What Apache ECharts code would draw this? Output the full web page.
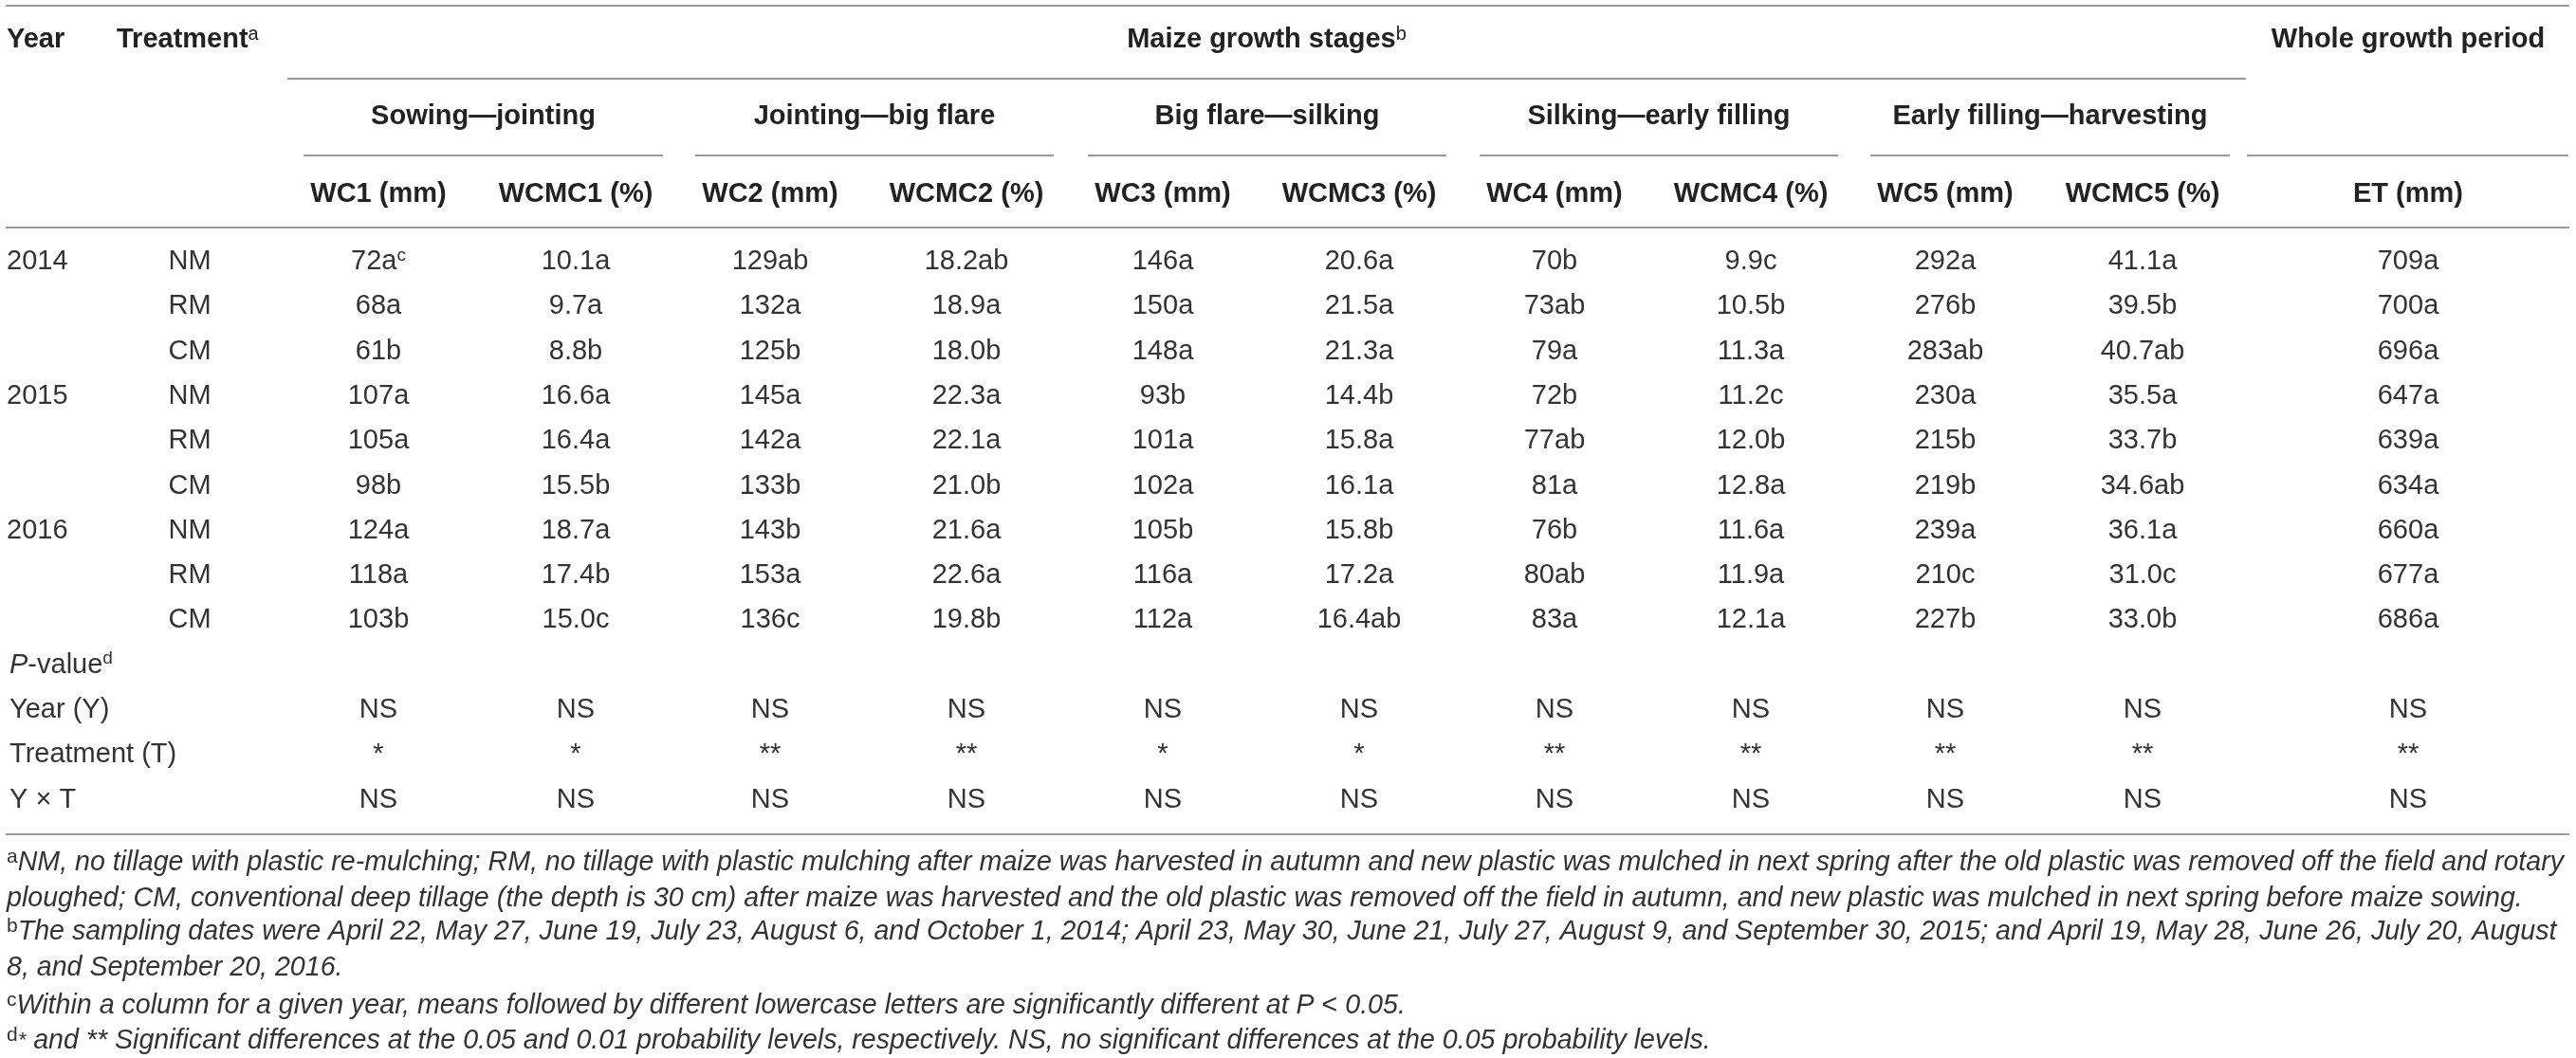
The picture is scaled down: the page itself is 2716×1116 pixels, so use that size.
<!DOCTYPE html>
<html><head><meta charset="utf-8">
<script src="https://cdn.jsdelivr.net/npm/echarts@6/dist/echarts.min.js"></script>
<style>html,body{margin:0;padding:0;background:#fff}#c{width:2716px;height:1116px}</style>
</head><body><div id="c"></div>
<script>
// ---------------- DATA ----------------
const years = ['2014', '2015', '2016'];
const treatments = ['NM', 'RM', 'CM'];
const stageLabels = ['Sowing\u2014jointing', 'Jointing\u2014big flare', 'Big flare\u2014silking', 'Silking\u2014early filling', 'Early filling\u2014harvesting'];
const columnLabels = ['WC1 (mm)', 'WCMC1 (%)', 'WC2 (mm)', 'WCMC2 (%)', 'WC3 (mm)', 'WCMC3 (%)', 'WC4 (mm)', 'WCMC4 (%)', 'WC5 (mm)', 'WCMC5 (%)', 'ET (mm)'];
const columnDecimals = [0, 1, 0, 1, 0, 1, 0, 1, 0, 1, 0];

const WC1 = [72, 68, 61, 107, 105, 98, 124, 118, 103];
const WC1_sig = ['a', 'a', 'b', 'a', 'a', 'b', 'a', 'a', 'b'];
const WCMC1 = [10.1, 9.7, 8.8, 16.6, 16.4, 15.5, 18.7, 17.4, 15.0];
const WCMC1_sig = ['a', 'a', 'b', 'a', 'a', 'b', 'a', 'b', 'c'];
const WC2 = [129, 132, 125, 145, 142, 133, 143, 153, 136];
const WC2_sig = ['ab', 'a', 'b', 'a', 'a', 'b', 'b', 'a', 'c'];
const WCMC2 = [18.2, 18.9, 18.0, 22.3, 22.1, 21.0, 21.6, 22.6, 19.8];
const WCMC2_sig = ['ab', 'a', 'b', 'a', 'a', 'b', 'a', 'a', 'b'];
const WC3 = [146, 150, 148, 93, 101, 102, 105, 116, 112];
const WC3_sig = ['a', 'a', 'a', 'b', 'a', 'a', 'b', 'a', 'a'];
const WCMC3 = [20.6, 21.5, 21.3, 14.4, 15.8, 16.1, 15.8, 17.2, 16.4];
const WCMC3_sig = ['a', 'a', 'a', 'b', 'a', 'a', 'b', 'a', 'ab'];
const WC4 = [70, 73, 79, 72, 77, 81, 76, 80, 83];
const WC4_sig = ['b', 'ab', 'a', 'b', 'ab', 'a', 'b', 'ab', 'a'];
const WCMC4 = [9.9, 10.5, 11.3, 11.2, 12.0, 12.8, 11.6, 11.9, 12.1];
const WCMC4_sig = ['c', 'b', 'a', 'c', 'b', 'a', 'a', 'a', 'a'];
const WC5 = [292, 276, 283, 230, 215, 219, 239, 210, 227];
const WC5_sig = ['a', 'b', 'ab', 'a', 'b', 'b', 'a', 'c', 'b'];
const WCMC5 = [41.1, 39.5, 40.7, 35.5, 33.7, 34.6, 36.1, 31.0, 33.0];
const WCMC5_sig = ['a', 'b', 'ab', 'a', 'b', 'ab', 'a', 'c', 'b'];
const ET = [709, 700, 696, 647, 639, 634, 660, 677, 686];
const ET_sig = ['a', 'a', 'a', 'a', 'a', 'a', 'a', 'a', 'a'];

const pRowLabels = ['Year (Y)', 'Treatment (T)', 'Y \u00d7 T'];
const pYear = ['NS', 'NS', 'NS', 'NS', 'NS', 'NS', 'NS', 'NS', 'NS', 'NS', 'NS'];
const pTreatment = ['*', '*', '**', '**', '*', '*', '**', '**', '**', '**', '**'];
const pYT = ['NS', 'NS', 'NS', 'NS', 'NS', 'NS', 'NS', 'NS', 'NS', 'NS', 'NS'];

const footnotes = [
  '{fsup|a}{fit|NM, no tillage with plastic re-mulching; RM, no tillage with plastic mulching after maize was harvested in autumn and new plastic was mulched in next spring after the old plastic was removed off the field and rotary}',
  '{fit|ploughed; CM, conventional deep tillage (the depth is 30 cm) after maize was harvested and the old plastic was removed off the field in autumn, and new plastic was mulched in next spring before maize sowing.}',
  '{fsup|b}{fit|The sampling dates were April 22, May 27, June 19, July 23, August 6, and October 1, 2014; April 23, May 30, June 21, July 27, August 9, and September 30, 2015; and April 19, May 28, June 26, July 20, August}',
  '{fit|8, and September 20, 2016.}',
  '{fsup|c}{fit|Within a column for a given year, means followed by different lowercase letters are significantly different at P }{fup|<}{fit| 0.05.}',
  '{fsup|d}{fast|*}{fit| and ** Significant differences at the 0.05 and 0.01 probability levels, respectively. NS, no significant differences at the 0.05 probability levels.}'
];

// ---------------- LAYOUT / STYLE ----------------
const W = 2716, H = 1116;
const FAM = "'Liberation Sans', Arial, 'Noto Sans', sans-serif";
const FS = 29, FFS = 28.6;
const COL_DATA = '#333333', COL_HEAD = '#222222', COL_LINE = '#9a9a9a';
const colX = [399, 607, 812, 1019, 1226, 1433, 1639, 1846, 2051, 2259, 2539];
const yearX = 7, treatX = 200, treatHeadX = 123;
const headY = [42, 123, 205];
const rowY0 = 276, rowStep = 47.3;
const footY = [910, 948, 983, 1021, 1061, 1098];
const lineTopY = 6, maizeLineY = 83, stageLineY = 164, headBottomY = 240, bottomY = 880;
const tableLeft = 6, tableRight = 2709;

const RICH = {
  sup: {font: '19px ' + FAM, fill: COL_DATA, verticalAlign: 'top', lineHeight: 19},
  hsup: {font: '20px ' + FAM, fill: COL_HEAD, verticalAlign: 'top', lineHeight: 20},
  it: {font: 'italic ' + FS + 'px ' + FAM, fill: COL_DATA, lineHeight: 32},
  fit: {font: 'italic ' + FFS + 'px ' + FAM, fill: COL_DATA, lineHeight: 32},
  fup: {font: FFS + 'px ' + FAM, fill: COL_DATA, lineHeight: 32},
  fsup: {font: '21px ' + FAM, fill: COL_DATA, verticalAlign: 'top', lineHeight: 21},
  fast: {font: 'italic 22px ' + FAM, fill: COL_DATA, lineHeight: 32}
};

// ---------------- BUILD CELLS ----------------
const valueCols = [[WC1, WC1_sig], [WCMC1, WCMC1_sig], [WC2, WC2_sig], [WCMC2, WCMC2_sig], [WC3, WC3_sig], [WCMC3, WCMC3_sig], [WC4, WC4_sig], [WCMC4, WCMC4_sig], [WC5, WC5_sig], [WCMC5, WCMC5_sig], [ET, ET_sig]];
const cells = [];
function addCell(x, y, text, align, bold) {
  cells.push({x: x, y: y, text: text, align: align || 'center', bold: !!bold});
}
// header
addCell(yearX, headY[0], 'Year', 'left', true);
addCell(treatHeadX, headY[0], 'Treatment{hsup|a}', 'left', true);
const stageSpans = stageLabels.map((s, k) => [colX[2 * k] - 79, colX[2 * k + 1] + 92]);
addCell((stageSpans[0][0] + stageSpans[4][1]) / 2, headY[0], 'Maize growth stages{hsup|b}', 'center', true);
addCell(colX[10], headY[0], 'Whole growth period', 'center', true);
stageLabels.forEach((s, k) => addCell((stageSpans[k][0] + stageSpans[k][1]) / 2, headY[1], s, 'center', true));
columnLabels.forEach((s, k) => addCell(colX[k], headY[2], s, 'center', true));
// body
for (let r = 0; r < years.length * treatments.length; r++) {
  const y = rowY0 + r * rowStep;
  if (r % 3 === 0) addCell(yearX, y, years[r / 3], 'left');
  addCell(treatX, y, treatments[r % 3], 'center');
  valueCols.forEach((vc, k) => {
    let t = vc[0][r].toFixed(columnDecimals[k]) + vc[1][r];
    if (r === 0 && k === 0) t += '{sup|c}';
    addCell(colX[k], y, t, 'center');
  });
}
// p-values
const pStart = years.length * treatments.length;
addCell(yearX + 3, rowY0 + pStart * rowStep, '{it|P}-value{sup|d}', 'left');
[pYear, pTreatment, pYT].forEach((arr, i) => {
  const y = rowY0 + (pStart + 1 + i) * rowStep;
  addCell(yearX + 3, y, pRowLabels[i], 'left');
  arr.forEach((t, k) => addCell(colX[k], y, t, 'center'));
});
// footnotes
footnotes.forEach((t, i) => addCell(yearX, footY[i], t, 'left'));

// lines
const rules = [[tableLeft, tableRight, lineTopY], [stageSpans[0][0] - 17, stageSpans[4][1] + 17, maizeLineY]];
stageSpans.forEach(s => rules.push([s[0], s[1], stageLineY]));
rules.push([stageSpans[4][1] + 18, tableRight - 1, stageLineY]);
rules.push([tableLeft, tableRight, headBottomY]);
rules.push([tableLeft, tableRight, bottomY]);

// ---------------- CHART ----------------
const chart = echarts.init(document.getElementById('c'), null, {renderer: 'canvas'});
chart.setOption({
  animation: false,
  backgroundColor: '#ffffff',
  grid: {left: 0, right: 0, top: 0, bottom: 0},
  xAxis: {type: 'value', min: 0, max: W, show: false},
  yAxis: {type: 'value', min: 0, max: H, inverse: true, show: false},
  series: [
    {
      type: 'custom',
      coordinateSystem: 'cartesian2d',
      data: rules,
      encode: {x: [0, 1], y: 2},
      renderItem: function (params, api) {
        const a = api.coord([api.value(0), api.value(2)]);
        const b = api.coord([api.value(1), api.value(2)]);
        return {type: 'line', shape: {x1: a[0], y1: a[1], x2: b[0], y2: b[1]}, style: {stroke: COL_LINE, lineWidth: 2}};
      },
      silent: true
    },
    {
      type: 'custom',
      coordinateSystem: 'cartesian2d',
      data: cells.map(c => [c.x, c.y]),
      encode: {x: 0, y: 1},
      renderItem: function (params, api) {
        const c = cells[params.dataIndex];
        const p = api.coord([api.value(0), api.value(1)]);
        return {
          type: 'text', x: p[0], y: p[1],
          style: {
            text: c.text,
            font: (c.bold ? 'bold ' : '') + FS + 'px ' + FAM,
            fill: c.bold ? COL_HEAD : COL_DATA,
            align: c.align, verticalAlign: 'middle', lineHeight: 32,
            rich: RICH
          }
        };
      },
      silent: true
    }
  ]
});
</script></body></html>
